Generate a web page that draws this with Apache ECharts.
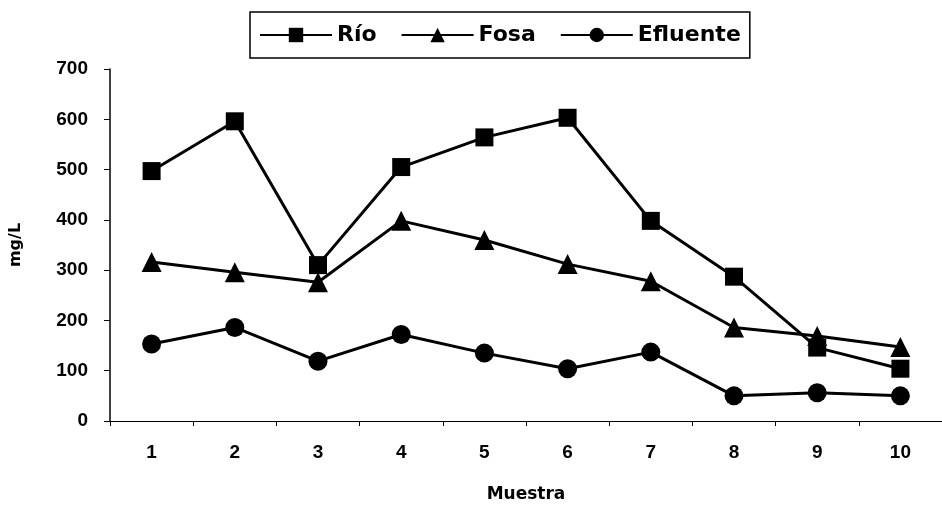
<!DOCTYPE html>
<html>
<head>
<meta charset="utf-8">
<script src="https://cdn.jsdelivr.net/npm/echarts@6/dist/echarts.min.js"></script>
<style>html,body{margin:0;padding:0;background:#fff;}#c{width:942px;height:508px;}</style>
</head>
<body>
<div id="c"></div>
<script>
const categories = ['1','2','3','4','5','6','7','8','9','10'];
const rio = [497, 596, 310, 505, 564, 603, 398, 287, 146, 104];
const fosa = [316, 296, 276, 398, 360, 312, 278, 186, 169, 147];
const efluente = [153, 186, 119, 172, 135, 104, 137, 50, 56, 50];
const yTicks = {min: 0, max: 700, interval: 100};

const font = '"DejaVu Sans", "Liberation Sans", Arial, sans-serif';
const fontA = '"Liberation Sans", Arial, sans-serif';
const chart = echarts.init(document.getElementById('c'));
function mk(name, data, symbol, size) {
  return {
    name, type: 'line', data, symbol, symbolSize: size,
    lineStyle: {color: '#000', width: 3},
    itemStyle: {color: '#000'},
    animation: false
  };
}
chart.setOption({
  backgroundColor: '#fff',
  animation: false,
  legend: {
    left: 250, top: 12,
    itemWidth: 72, itemHeight: 18, itemGap: 24,
    padding: [12, 9, 12, 9],
    borderColor: '#000', borderWidth: 1.5,
    textStyle: {fontFamily: font, fontWeight: 'bold', fontSize: 22, color: '#000'},
    data: ['Río', 'Fosa', 'Efluente']
  },
  grid: {left: 109, right: -7, top: 69, bottom: 78},
  xAxis: {
    type: 'category', data: categories, boundaryGap: true,
    name: 'Muestra', nameLocation: 'middle', nameGap: 65,
    nameTextStyle: {fontFamily: font, fontWeight: 'bold', fontSize: 17, color: '#000'},
    axisLine: {lineStyle: {color: '#000', width: 1}},
    axisTick: {show: true, inside: false, length: 5, lineStyle: {color: '#000'}},
    axisLabel: {margin: 22, fontFamily: fontA, fontWeight: 'bold', fontSize: 19, color: '#000'},
    splitLine: {show: false}
  },
  yAxis: {
    type: 'value', min: yTicks.min, max: yTicks.max, interval: yTicks.interval,
    name: 'mg/L', nameLocation: 'middle', nameGap: 86, nameRotate: 90,
    nameTextStyle: {fontFamily: font, fontWeight: 'bold', fontSize: 16, color: '#000'},
    axisLine: {show: true, lineStyle: {color: '#000', width: 1.5}},
    axisTick: {show: true, inside: false, length: 6, lineStyle: {color: '#000'}},
    axisLabel: {margin: 22, fontFamily: fontA, fontWeight: 'bold', fontSize: 19, color: '#000'},
    splitLine: {show: false}
  },
  series: [
    mk('Río', rio, 'rect', 18),
    mk('Fosa', fosa, 'triangle', 20),
    mk('Efluente', efluente, 'circle', 19)
  ]
});
</script>
</body>
</html>
